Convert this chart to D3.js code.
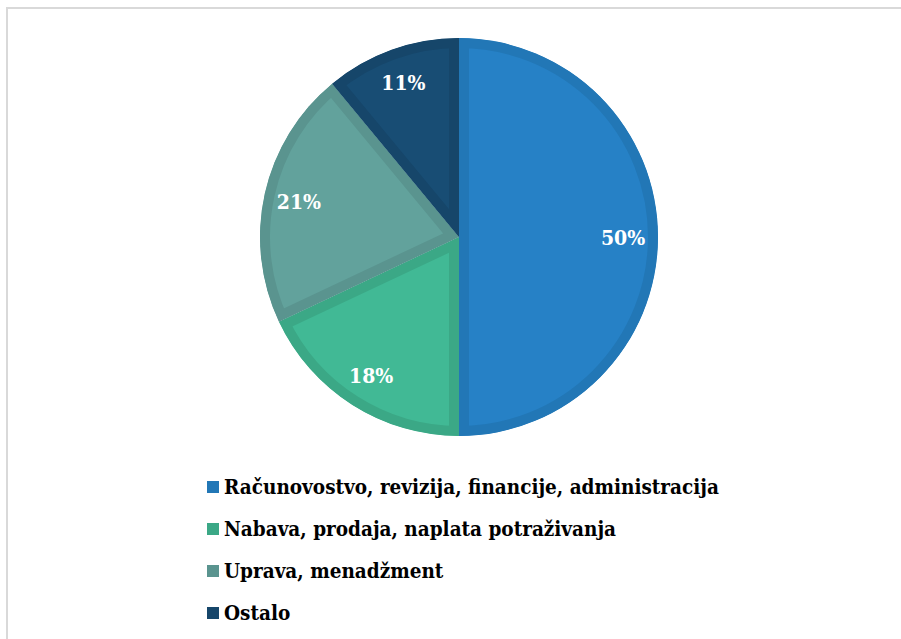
<!DOCTYPE html>
<html>
<head>
<meta charset="utf-8">
<script src="https://cdn.jsdelivr.net/npm/d3@7"></script>
<style>
  body { margin: 0; background: #fff; }
  svg { display: block; }
  text { font-family: "DejaVu Serif Condensed", "DejaVu Serif", serif; font-weight: bold; }
</style>
</head>
<body>
<svg id="chart" width="901" height="639"></svg>
<script>
// Pie chart: share of job areas (values in percent)

const categories = [
    "Računovostvo, revizija, financije, administracija",
    "Nabava, prodaja, naplata potraživanja",
    "Uprava, menadžment",
    "Ostalo"
];
const values = [50, 18, 21, 11];
const fillColors = ["#2681c6", "#41b995", "#62a29c", "#184d74"];
const edgeColors = ["#2277b6", "#3ba886", "#5a948f", "#16466a"];

function drawChart() {
    const svg = d3.select("#chart");
    const cx = 459, cy = 237, r = 199;
    const edge = 10;

    // light frame round the chart area
    svg.append("rect")
        .attr("x", 7).attr("y", 8)
        .attr("width", 1000).attr("height", 1000)
        .attr("fill", "none")
        .attr("stroke", "#d9d9d9")
        .attr("stroke-width", 2);

    const pie = d3.pie().sort(null).value(d => d);
    const arcs = pie(values);
    const arc = d3.arc().innerRadius(0).outerRadius(r);
    const labelArc = d3.arc().innerRadius(164).outerRadius(164);

    const g = svg.append("g").attr("transform", `translate(${cx},${cy})`);
    const defs = svg.append("defs");

    // clip each slice to itself so the border sits inside it
    defs.selectAll("clipPath")
        .data(arcs)
        .enter()
        .append("clipPath")
        .attr("id", (d, i) => "clip" + i)
        .append("path")
        .attr("d", arc);

    g.selectAll(".slice")
        .data(arcs)
        .enter()
        .append("path")
        .attr("class", "slice")
        .attr("d", arc)
        .attr("fill", (d, i) => fillColors[i])
        .attr("stroke", (d, i) => edgeColors[i])
        .attr("stroke-width", edge * 2)
        .attr("stroke-linejoin", "miter")
        .attr("clip-path", (d, i) => `url(#clip${i})`);

    g.selectAll(".pct")
        .data(arcs)
        .enter()
        .append("text")
        .attr("class", "pct")
        .attr("x", d => labelArc.centroid(d)[0])
        .attr("y", d => labelArc.centroid(d)[1])
        .attr("text-anchor", "middle")
        .attr("dominant-baseline", "central")
        .attr("font-size", "21px")
        .attr("fill", "#ffffff")
        .text(d => d.data + "%");

    // legend below the pie
    const legend = svg.append("g").attr("transform", "translate(207,481)");
    const rowStep = 42;

    const rows = legend.selectAll(".legend-row")
        .data(categories)
        .enter()
        .append("g")
        .attr("class", "legend-row")
        .attr("transform", (d, i) => `translate(0,${i * rowStep})`);

    rows.append("rect")
        .attr("width", 12)
        .attr("height", 12)
        .attr("fill", (d, i) => edgeColors[i]);

    rows.append("text")
        .attr("x", 17)
        .attr("y", 13)
        .attr("font-size", "20.5px")
        .attr("fill", "#000000")
        .text(d => d);
}

drawChart();
</script>
</body>
</html>
